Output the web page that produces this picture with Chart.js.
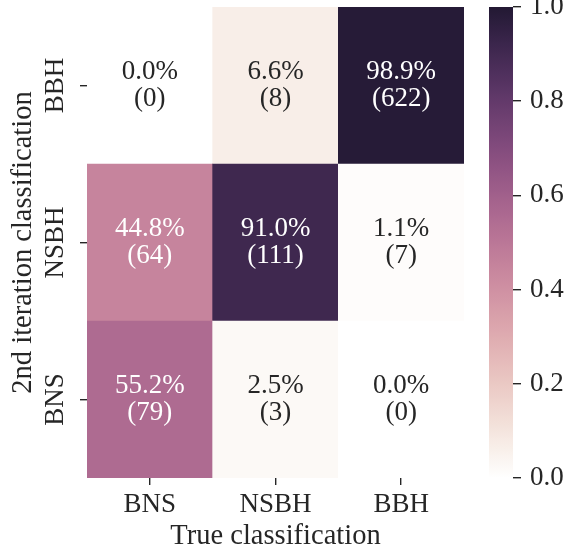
<!DOCTYPE html>
<html>
<head>
<meta charset="utf-8">
<script src="https://cdn.jsdelivr.net/npm/chart.js@4/dist/chart.umd.min.js"></script>
<style>
  html, body { margin: 0; padding: 0; background: #fff; }
  #wrap { position: relative; width: 564px; height: 554px; }
  #wrap canvas { position: absolute; left: 0; top: 0; }
</style>
</head>
<body>
<div id="wrap">
  <canvas id="heat" width="564" height="554"></canvas>
  <canvas id="cbar" width="564" height="554"></canvas>
</div>
<script>
// Class names, bottom row first on the vertical axis, left to right on the horizontal axis
const classes = ['BNS', 'NSBH', 'BBH'];

// Event counts per predicted class (row), split by true class (column)
const countsBNS  = [79, 3, 0];
const countsNSBH = [64, 111, 7];
const countsBBH  = [0, 8, 622];

const colorbarTicks = [0.0, 0.2, 0.4, 0.6, 0.8, 1.0];

const FONT = { family: '"Liberation Serif", "Times New Roman", serif', size: 27 };
const TITLE_FONT = { family: FONT.family, size: 28.5 };
const TEXT_DARK = '#262626';

// Each column is normalised by the number of events of that true class
const rows = [countsBNS, countsNSBH, countsBBH];
const colTotals = classes.map((_, c) => rows.reduce((s, r) => s + r[c], 0));
const fractions = rows.map(r => r.map((n, c) => n / colTotals[c]));

// cubehelix colour map (light -> dark)
function cubehelix(v) {
  const light = 1.0, dark = 0.12, start = 0, rot = 0.4, hue = 0.8;
  const x = light + (dark - light) * v;
  const a = hue * x * (1 - x) / 2;
  const phi = 2 * Math.PI * (start / 3 + rot * x);
  const c = Math.cos(phi), s = Math.sin(phi);
  const ch = [
    x + a * (-0.14861 * c + 1.78277 * s),
    x + a * (-0.29227 * c - 0.90649 * s),
    x + a * (1.97294 * c)
  ].map(u => Math.round(Math.min(1, Math.max(0, u)) * 255));
  return ch;
}
const toCss = ch => `rgb(${ch[0]},${ch[1]},${ch[2]})`;
function luminance(ch) {
  const lin = ch.map(u => { u /= 255; return u <= 0.03928 ? u / 12.92 : Math.pow((u + 0.055) / 1.055, 2.4); });
  return 0.2126 * lin[0] + 0.7152 * lin[1] + 0.0722 * lin[2];
}

// Percentages and counts written inside each cell, plus rotated row labels
const cellText = {
  id: 'cellText',
  afterDatasetsDraw(chart) {
    const { ctx, scales: { x, y } } = chart;
    ctx.save();
    ctx.font = `${FONT.size}px ${FONT.family}`;
    ctx.textAlign = 'center';
    ctx.textBaseline = 'alphabetic';
    rows.forEach((r, ri) => {
      r.forEach((n, ci) => {
        const f = fractions[ri][ci];
        const cx = x.getPixelForValue(ci);
        const cy = y.getPixelForValue(ri + 0.5);
        ctx.fillStyle = luminance(cubehelix(f)) > 0.408 ? TEXT_DARK : '#ffffff';
        ctx.fillText((f * 100).toFixed(1) + '%', cx, cy - 6.5);
        ctx.fillText('(' + n + ')', cx, cy + 20.5);
      });
    });
    ctx.restore();
  },
  afterDraw(chart) {
    const { ctx, scales: { y } } = chart;
    ctx.save();
    ctx.font = `${FONT.size}px ${FONT.family}`;
    ctx.fillStyle = TEXT_DARK;
    ctx.textAlign = 'center';
    ctx.textBaseline = 'middle';
    y.ticks.forEach((t, i) => {
      ctx.save();
      ctx.translate(56, y.getPixelForValue(t.value));
      ctx.rotate(-Math.PI / 2);
      ctx.fillText(classes[i], 0, 0);
      ctx.restore();
    });
    ctx.restore();
  }
};

const tickGrid = { drawOnChartArea: false, drawTicks: true, tickLength: 7, color: TEXT_DARK, lineWidth: 1.4 };

new Chart(document.getElementById('heat'), {
  type: 'bar',
  data: {
    labels: classes,
    datasets: rows.map((r, ri) => ({
      label: classes[ri],
      data: r.map(() => [ri, ri + 1]),
      backgroundColor: fractions[ri].map(f => toCss(cubehelix(f))),
      borderWidth: 0,
      barPercentage: 1,
      categoryPercentage: 1,
      grouped: false
    }))
  },
  options: {
    responsive: false,
    animation: false,
    devicePixelRatio: 1,
    layout: { padding: { left: 0, top: 7, right: 100, bottom: 0 } },
    plugins: { legend: { display: false }, tooltip: { enabled: false } },
    scales: {
      x: {
        type: 'category',
        offset: true,
        grid: Object.assign({ offset: false }, tickGrid),
        border: { display: false },
        ticks: { font: FONT, color: TEXT_DARK, padding: 4, maxRotation: 0, autoSkip: false },
        title: { display: true, text: 'True classification', font: TITLE_FONT, color: TEXT_DARK, padding: { top: 0, bottom: 0 } },
        afterFit(s) { s.height = 76; s.paddingLeft = 0; s.paddingRight = 0; }
      },
      y: {
        type: 'linear',
        min: 0,
        max: 3,
        afterBuildTicks(s) { s.ticks = classes.map((_, i) => ({ value: i + 0.5 })); },
        grid: tickGrid,
        border: { display: false },
        ticks: { display: false },
        title: { display: true, text: '2nd iteration classification', font: TITLE_FONT, color: TEXT_DARK, padding: { top: 6, bottom: 0 } },
        afterFit(s) { s.width = 87; s.paddingTop = 0; s.paddingBottom = 0; }
      }
    }
  },
  plugins: [cellText]
});

// Colour bar: one bar spanning 0..1 filled with the colour map
function barGradient(context) {
  const chart = context.chart;
  if (!chart.chartArea || !chart.scales.y) return toCss(cubehelix(0.5));
  const ys = chart.scales.y;
  const g = chart.ctx.createLinearGradient(0, ys.getPixelForValue(0), 0, ys.getPixelForValue(1));
  const n = 64;
  for (let i = 0; i <= n; i++) g.addColorStop(i / n, toCss(cubehelix(i / n)));
  return g;
}

new Chart(document.getElementById('cbar'), {
  type: 'bar',
  data: {
    labels: [''],
    datasets: [{ data: [[0, 1]], backgroundColor: barGradient, borderWidth: 0, barPercentage: 1, categoryPercentage: 1 }]
  },
  options: {
    responsive: false,
    animation: false,
    devicePixelRatio: 1,
    layout: { padding: { left: 489, top: 7, right: 0, bottom: 76 } },
    plugins: { legend: { display: false }, tooltip: { enabled: false } },
    scales: {
      x: { display: false },
      y: {
        type: 'linear',
        position: 'right',
        min: 0,
        max: 1,
        afterBuildTicks(s) { s.ticks = colorbarTicks.map(v => ({ value: v })); },
        grid: Object.assign({}, tickGrid, { tickLength: 8 }),
        border: { display: false },
        ticks: { font: FONT, color: TEXT_DARK, padding: 9, callback: v => v.toFixed(1) },
        afterFit(s) { s.width = 51; s.paddingTop = 0; s.paddingBottom = 0; }
      }
    }
  }
});
</script>
</body>
</html>
